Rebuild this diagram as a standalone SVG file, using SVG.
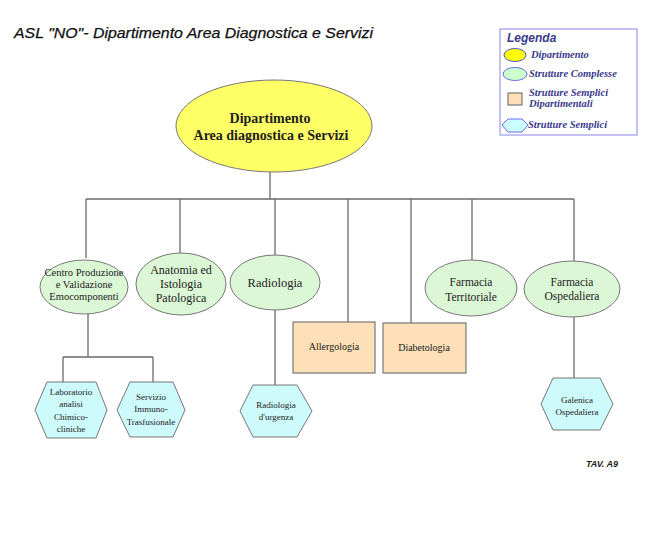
<svg xmlns="http://www.w3.org/2000/svg" width="653" height="556" viewBox="0 0 653 556">
<style>
.ln{fill:none;stroke:#6b6b6b;stroke-width:1.3}
.dept{fill:#ffff66;stroke:#777;stroke-width:1}
.sc{fill:#dcf7d6;stroke:#777;stroke-width:1}
.ssd{fill:#fde0b8;stroke:#777;stroke-width:1.2}
.ss{fill:#cdfafa;stroke:#777;stroke-width:1}
.t{font-family:"Liberation Serif",serif;fill:#222;text-anchor:middle}
.lg{font-family:"Liberation Serif",serif;font-style:italic;font-weight:bold;fill:#3a3a8c;font-size:10.5px}
</style>
<rect width="653" height="556" fill="#fff"/>
<text x="14" y="38" font-family="'Liberation Sans',sans-serif" font-style="italic" font-size="14" fill="#111" stroke="#111" stroke-width="0.25" textLength="359" lengthAdjust="spacingAndGlyphs">ASL "NO"- Dipartimento Area Diagnostica e Servizi</text>

<g id="legend">
<rect x="500" y="29" width="137" height="106" fill="#fff" stroke="#9a9af0" stroke-width="1.2"/>
<text x="507" y="42" font-family="'Liberation Sans',sans-serif" font-style="italic" font-weight="bold" font-size="12" fill="#3a3a8c">Legenda</text>
<ellipse cx="515" cy="55" rx="11" ry="6.5" fill="#ffff00" stroke="#5555cc" stroke-width="1"/>
<text class="lg" x="531" y="58">Dipartimento</text>
<ellipse cx="515" cy="74" rx="12" ry="6.5" fill="#ccffcc" stroke="#6a6aee" stroke-width="1"/>
<text class="lg" x="529" y="77">Strutture Complesse</text>
<rect x="508" y="93" width="14" height="12" fill="#fde0b8" stroke="#777" stroke-width="1.2"/>
<text class="lg" x="529" y="96">Strutture Semplici</text>
<text class="lg" x="529" y="107">Dipartimentali</text>
<polygon points="502,125 508,119 522,119 528,125 522,132 508,132" fill="#ccffff" stroke="#6a6aee" stroke-width="1"/>
<text class="lg" x="528" y="128">Strutture Semplici</text>
</g>

<g id="connectors">
<path class="ln" d="M270,172 V199 M86,199 H574 M86,199 V258 M180,199 V253 M275,199 V255 M348,199 V322 M411,199 V323 M472,199 V260 M574,199 V262"/>
<path class="ln" d="M88,312 V357 M63,357 H153 M63,357 V382 M153,357 V382"/>
<path class="ln" d="M275,310 V385"/>
<path class="ln" d="M574,317 V378"/>
</g>

<g id="n-dept">
<ellipse class="dept" cx="274" cy="126" rx="98" ry="46"/>
<text class="t" x="270" y="123" font-size="14" font-weight="bold">Dipartimento</text>
<text class="t" x="271" y="140" font-size="14" font-weight="bold">Area diagnostica e Servizi</text>
</g>

<g id="n-centro">
<ellipse class="sc" cx="84" cy="287" rx="44" ry="27"/>
<text class="t" x="84" y="276" font-size="10.5">Centro Produzione</text>
<text class="t" x="84" y="288" font-size="10.5">e Validazione</text>
<text class="t" x="84" y="300" font-size="10.5">Emocomponenti</text>
</g>

<g id="n-anatomia">
<ellipse class="sc" cx="181" cy="284" rx="45" ry="31"/>
<text class="t" x="181" y="274" font-size="12">Anatomia ed</text>
<text class="t" x="181" y="288" font-size="12">Istologia</text>
<text class="t" x="181" y="302" font-size="12">Patologica</text>
</g>

<g id="n-radiologia">
<ellipse class="sc" cx="275" cy="282.5" rx="45" ry="27.5"/>
<text class="t" x="275" y="287" font-size="12.5">Radiologia</text>
</g>

<g id="n-allergologia">
<rect class="ssd" x="293" y="322" width="82" height="51"/>
<text class="t" x="334" y="350" font-size="10">Allergologia</text>
</g>

<g id="n-diabetologia">
<rect class="ssd" x="383" y="323" width="83" height="50"/>
<text class="t" x="424" y="351" font-size="10">Diabetologia</text>
</g>

<g id="n-farm-terr">
<ellipse class="sc" cx="471" cy="288" rx="46" ry="28"/>
<text class="t" x="471" y="286" font-size="11.5">Farmacia</text>
<text class="t" x="471" y="301" font-size="11.5">Territoriale</text>
</g>

<g id="n-farm-osp">
<ellipse class="sc" cx="572" cy="289" rx="48" ry="28"/>
<text class="t" x="572" y="286" font-size="11.5">Farmacia</text>
<text class="t" x="572" y="300" font-size="11.5">Ospedaliera</text>
</g>

<g id="n-lab">
<polygon class="ss" points="35,410 47,382 96,382 107,410 96,438 47,438"/>
<text class="t" x="71" y="395" font-size="9">Laboratorio</text>
<text class="t" x="71" y="407" font-size="9">analisi</text>
<text class="t" x="71" y="420" font-size="9">Chimico-</text>
<text class="t" x="71" y="432" font-size="9">cliniche</text>
</g>

<g id="n-servizio">
<polygon class="ss" points="117,410 130,382 173,382 185,410 173,437 130,437"/>
<text class="t" x="151" y="400" font-size="9">Servizio</text>
<text class="t" x="151" y="412" font-size="9">Immuno-</text>
<text class="t" x="151" y="425" font-size="9">Trasfusionale</text>
</g>

<g id="n-rad-urg">
<polygon class="ss" points="240,411 253,385 297,385 312,411 297,437 253,437"/>
<text class="t" x="276" y="408" font-size="9">Radiologia</text>
<text class="t" x="276" y="420" font-size="9">d'urgenza</text>
</g>

<g id="n-galenica">
<polygon class="ss" points="541,404 553,378 600,378 613,404 600,430 553,430"/>
<text class="t" x="577" y="403" font-size="9">Galenica</text>
<text class="t" x="577" y="415" font-size="9">Ospedaliera</text>
</g>

<text x="586" y="467" font-family="'Liberation Sans',sans-serif" font-style="italic" font-weight="bold" font-size="9" fill="#222">TAV. A9</text>
</svg>
